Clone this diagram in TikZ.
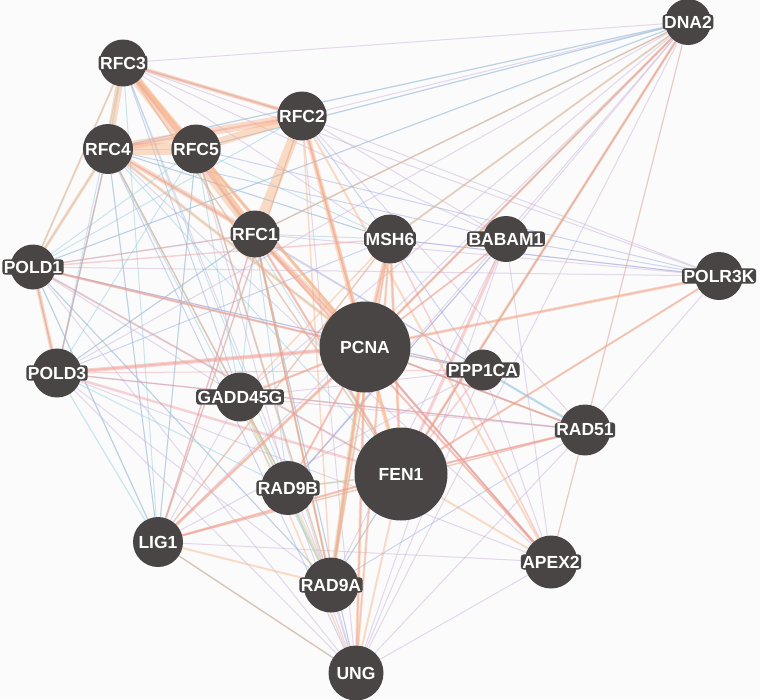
\documentclass[tikz,border=0pt]{standalone}
\usepackage{fontspec}
\setmainfont{Liberation Sans}
\pgfdeclarelayer{bg}
\pgfdeclarelayer{back}
\pgfsetlayers{back,bg,main}
\definecolor{bgc}{RGB}{251,251,252}
\definecolor{ndc}{RGB}{74,69,69}
\definecolor{orE}{RGB}{247,180,132}
\definecolor{rdE}{RGB}{240,148,152}
\definecolor{puE}{RGB}{198,172,214}
\definecolor{cyE}{RGB}{138,203,219}
\definecolor{blE}{RGB}{146,166,218}
\definecolor{yeE}{RGB}{218,212,160}
\tikzset{
  gene/.style={circle, fill=ndc, inner sep=0pt, minimum size=#1},
  glab/.style={fill=ndc, text=white, inner sep=1.5pt, rounded corners=3pt,
    font=\fontsize{17.5}{17.5}\selectfont\bfseries},
}
\begin{document}
\begin{tikzpicture}[x=1pt,y=-1pt]
\begin{pgfonlayer}{back}
\fill[bgc] (0,0) rectangle (760,699);
\end{pgfonlayer}
\useasboundingbox (0,0) rectangle (760,699);
% genes
\foreach \n/\x/\y/\d in {
  DNA2/688/22/46, RFC3/123/63/47, RFC2/302/116/49, RFC4/108/149/50,
  RFC5/196/149/49, RFC1/255/234/47, MSH6/390/239/49, BABAM1/506/239/46,
  POLD1/33/267/45, POLR3K/719/276/48, PCNA/365/347/91, POLD3/57/373/49,
  PPP1CA/483/370/41, GADD45G/240/397/49, RAD51/585/430/51, FEN1/401/474/93,
  RAD9B/288/488/54, LIG1/158/542/50, APEX2/551/562/53, RAD9A/331/585/55,
  UNG/356/673/55}
{
  \node[gene=\d pt] (\n) at (\x,\y) {};
  \node[glab] (\n-t) at (\x,\y) {\n};
}
\begin{pgfonlayer}{bg}
% co-expression (purple)
\foreach \a/\b in {DNA2/RFC3, DNA2/RFC4, DNA2/RFC5, DNA2/RFC2, DNA2/POLD1,
  DNA2/POLD3, DNA2/LIG1, DNA2/UNG, DNA2/RAD51, DNA2/RAD9A, DNA2/RAD9B,
  DNA2/GADD45G, DNA2/BABAM1, DNA2/RFC1, RFC3/MSH6, RFC3/BABAM1, RFC4/MSH6,
  RFC4/LIG1, RFC4/POLD3, RFC5/LIG1, RFC5/UNG, RFC2/UNG, RFC2/BABAM1,
  RFC2/RAD51, RFC1/UNG, RFC1/LIG1, RFC1/POLD3, POLD1/LIG1, POLD1/UNG,
  POLD3/UNG, POLD3/RAD9A, LIG1/UNG, LIG1/RAD51, LIG1/APEX2, RAD9A/UNG,
  RAD9B/UNG, UNG/RAD51, UNG/PPP1CA, UNG/BABAM1, UNG/MSH6, GADD45G/RAD51,
  GADD45G/PPP1CA, GADD45G/LIG1, GADD45G/POLD1, GADD45G/RFC4, MSH6/POLR3K,
  MSH6/RAD9A, MSH6/LIG1, BABAM1/RAD9B, BABAM1/APEX2, PPP1CA/RAD51,
  PPP1CA/APEX2, RAD51/APEX2, POLR3K/RAD51, POLR3K/RFC1, POLR3K/RFC2,
  PCNA/RAD51, FEN1/RAD51, PPP1CA/POLD1, PPP1CA/RFC4, RFC5/RAD9B, RFC3/RAD9A,
  POLD1/RAD9A, POLD3/APEX2, RFC4/APEX2, RFC5/APEX2, BABAM1/RAD9A, UNG/APEX2,
  POLR3K/POLD1, LIG1/PPP1CA, RFC3/POLR3K}
  \draw[puE, line width=1pt, draw opacity=.45] (\a) -- (\b);
% co-localization (blue)
\foreach \a/\b in {MSH6/POLR3K, BABAM1/POLR3K, RFC5/POLR3K, RFC4/BABAM1,
  RFC1/PPP1CA, POLD1/PPP1CA, RAD9A/RAD51, LIG1/RFC2, POLD3/MSH6,
  RAD9B/BABAM1, GADD45G/RFC3, RAD9B/FEN1, RFC2/PPP1CA, POLD3/RAD51,
  UNG/RFC4, APEX2/PCNA}
  \draw[blE, line width=1pt, draw opacity=.45] (\a) -- (\b);
% pathway (cyan)
\foreach \a/\b/\w in {POLD1/RFC3/1, POLD1/RFC4/1.2, POLD1/RFC5/1, POLD1/RFC2/1,
  POLD1/RFC1/1, POLD3/RFC3/1, POLD3/RFC4/1.2, POLD3/RFC5/1, POLD3/RFC1/1,
  POLD3/LIG1/1.2, POLD1/LIG1/1.2, LIG1/RFC4/1, LIG1/RFC5/1, LIG1/RFC3/1,
  DNA2/RFC4/1.2, DNA2/RFC5/1.2, DNA2/RFC1/1, DNA2/POLD1/1, DNA2/MSH6/1.2,
  DNA2/PCNA/1, DNA2/RAD9A/1, PPP1CA/RAD51/2.5, PCNA/RAD51/1.5, RAD9A/RFC4/1,
  RAD9A/RFC5/1, RAD9A/POLD1/1, RAD9A/GADD45G/1.5, RAD9B/RFC4/1, RAD9B/RFC3/1,
  RAD9B/GADD45G/1.2, FEN1/RFC3/1, FEN1/RFC5/1, FEN1/POLD1/1, PCNA/POLD1/1,
  PCNA/RFC4/1, MSH6/RFC4/1, MSH6/RFC5/1, UNG/RFC1/1, UNG/LIG1/1,
  GADD45G/RFC5/1, GADD45G/RFC1/1, RFC3/RFC2/1, RFC4/RFC5/1, RFC3/RFC4/1.2,
  POLD1/POLD3/1.2, POLD3/RAD9B/1, PCNA/PPP1CA/1.5, MSH6/RFC1/1, RAD9A/RFC1/1.2,
  FEN1/RFC4/1, RAD9B/RFC1/1}
  \draw[cyE, line width=\w pt, draw opacity=.45] (\a) -- (\b);
% shared domains (yellow)
\foreach \a/\b/\w in {PCNA/RAD9A/5, RAD9B/RAD9A/2, GADD45G/RAD9A/2,
  FEN1/RAD9B/2, RAD9A/RFC1/2}
  \draw[yeE, line width=\w pt, draw opacity=.45] (\a) -- (\b);
% predicted (orange)
\foreach \a/\b/\w in {RFC3/RFC4/7, RFC3/RFC5/6, RFC3/RFC1/10, RFC3/RFC2/4,
  RFC4/RFC5/12, RFC4/RFC2/8, RFC5/RFC2/8, RFC2/RFC1/10, RFC5/RFC1/5, RFC4/RFC1/5,
  RFC2/PCNA/5, RFC1/PCNA/6, RFC5/PCNA/3, RFC4/PCNA/3, RFC3/PCNA/3,
  MSH6/PCNA/5, MSH6/FEN1/3, MSH6/RAD9A/2, POLD1/POLD3/4, POLD1/RFC4/3,
  POLD1/RFC3/2, PCNA/FEN1/4, PCNA/RAD9A/3, PCNA/UNG/3, FEN1/UNG/2,
  DNA2/PCNA/2.5, DNA2/FEN1/3, DNA2/MSH6/2, DNA2/RFC1/1.5, LIG1/PCNA/3,
  LIG1/FEN1/2, LIG1/RAD9A/2, LIG1/MSH6/1.5, POLR3K/PCNA/3, POLR3K/FEN1/2,
  PCNA/APEX2/2, FEN1/APEX2/2, RFC2/APEX2/2, RFC1/APEX2/2, GADD45G/PCNA/2,
  GADD45G/MSH6/1.5, RAD9B/PCNA/2, RFC2/RAD9A/1.5, RFC1/RAD9A/2,
  RFC5/RAD9A/1.5, RFC2/LIG1/1.5, POLD3/PCNA/2, RAD51/PCNA/2, RAD51/FEN1/1.5,
  DNA2/APEX2/1, RFC4/RAD9B/1.5, LIG1/RAD51/1.5, GADD45G/UNG/1.5,
  LIG1/UNG/1.5, RFC3/FEN1/1.5, POLD1/PCNA/1.5, MSH6/UNG/2.5, RFC2/FEN1/2.5,
  RFC1/FEN1/2, BABAM1/PCNA/1.5}
  \draw[orE, line width=\w pt, draw opacity=.45] (\a) -- (\b);
% physical (red)
\foreach \a/\b/\w in {POLD3/PCNA/4, POLD3/FEN1/2.5, POLD1/PCNA/2.5,
  POLD1/FEN1/2, LIG1/PCNA/2, LIG1/FEN1/2, RFC3/RFC2/2, RFC4/RFC2/2,
  RFC1/PCNA/2, RFC1/FEN1/2, RFC2/PCNA/1.5, RAD51/PCNA/1.5, RAD51/FEN1/2,
  PPP1CA/FEN1/1.5, PPP1CA/PCNA/1.5, BABAM1/FEN1/3, BABAM1/PCNA/1.5,
  POLR3K/FEN1/1.5, POLR3K/PCNA/1.5, DNA2/PCNA/1.5, DNA2/FEN1/1.2,
  MSH6/PCNA/2, GADD45G/PCNA/2, RAD9B/PCNA/1.5, RAD9A/PCNA/2,
  UNG/PCNA/1.5, APEX2/PCNA/2, APEX2/RFC1/1.5, APEX2/MSH6/1.5, RAD9A/RFC1/1.5,
  POLD1/POLD3/1.5, POLD1/RFC1/1.5, POLD1/MSH6/1.5, RFC3/RFC1/2, RFC4/RFC1/1.5,
  MSH6/FEN1/1.5, LIG1/RFC1/1.5, POLD3/RAD51/1.5, POLD3/PPP1CA/1,
  RFC4/POLD3/1.5}
  \draw[rdE, line width=\w pt, draw opacity=.4] (\a) -- (\b);
\end{pgfonlayer}
\end{tikzpicture}
\end{document}
